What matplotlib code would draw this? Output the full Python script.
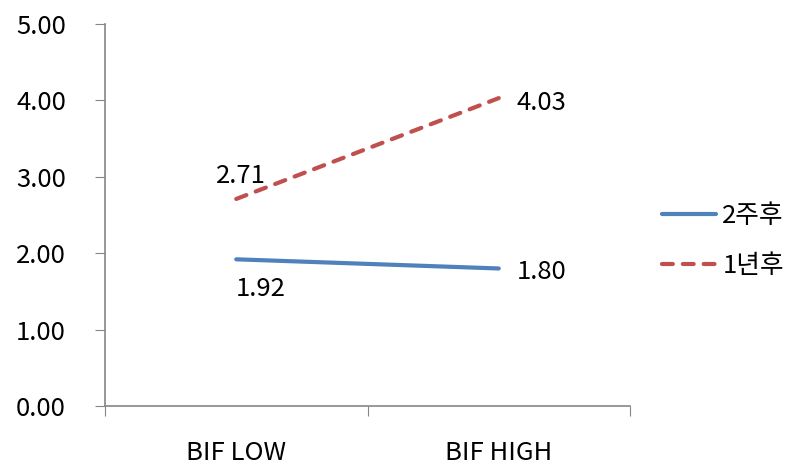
import matplotlib
matplotlib.use("Agg")
import matplotlib.pyplot as plt
from matplotlib.ticker import FixedLocator, NullFormatter

plt.rcParams['font.family'] = ['Noto Sans CJK KR', 'DejaVu Sans']

categories = ["BIF LOW", "BIF HIGH"]
series_names = ["2주후", "1년후"]
week2 = [1.92, 1.80]
year1 = [2.71, 4.03]
y_ticks = [0, 1, 2, 3, 4, 5]

FS = 18.5

fig = plt.figure(figsize=(8, 4.65), dpi=100)
ax = fig.add_axes([105 / 800, 1 - 406 / 465, (630 - 105) / 800, (406 - 24) / 465])

xs = [0.5, 1.5]
ax.plot(xs, week2, color="#4F81BD", lw=3, label=series_names[0], solid_capstyle="round")
ax.plot(xs, year1, color="#C0504D", lw=3, ls=(0, (2.6, 2.4)), dash_capstyle="round",
        label=series_names[1])

ax.set_xlim(0, 2)
ax.set_ylim(0, 5)

# category boundaries carry the tick marks, category centres carry the labels
ax.xaxis.set_major_locator(FixedLocator([0, 1, 2]))
ax.xaxis.set_major_formatter(NullFormatter())
ax.xaxis.set_minor_locator(FixedLocator(xs))
ax.set_xticklabels(categories, minor=True)
ax.tick_params(axis="x", which="major", length=7, color="#868686", direction="out")
ax.tick_params(axis="x", which="minor", length=0, pad=24.5, labelsize=FS)

ax.set_yticks(y_ticks)
ax.set_yticklabels([f"{v:.2f}" for v in y_ticks])
ax.tick_params(axis="y", length=7, color="#868686", direction="out", labelsize=FS, pad=21)

for side in ("top", "right"):
    ax.spines[side].set_visible(False)
for side in ("left", "bottom"):
    ax.spines[side].set_color("#868686")
    ax.spines[side].set_linewidth(1.2)

ax.annotate(f"{week2[0]:.2f}", (xs[0], week2[0]), xytext=(0, -26.5), textcoords="offset points",
            ha="left", va="baseline", fontsize=FS)
ax.annotate(f"{week2[1]:.2f}", (xs[1], week2[1]), xytext=(13, -7.5), textcoords="offset points",
            ha="left", va="baseline", fontsize=FS)
ax.annotate(f"{year1[0]:.2f}", (xs[0], year1[0]), xytext=(-14.5, 11.5), textcoords="offset points",
            ha="left", va="baseline", fontsize=FS)
ax.annotate(f"{year1[1]:.2f}", (xs[1], year1[1]), xytext=(13, -8.5), textcoords="offset points",
            ha="left", va="baseline", fontsize=FS)

fig.legend(loc="center left", bbox_to_anchor=(662 / 800, 1 - 241 / 465), frameon=False,
           fontsize=FS, handlelength=2.1, labelspacing=0.9, handletextpad=0.25,
           borderaxespad=0, borderpad=0)

fig.savefig("out.png", dpi=100)
